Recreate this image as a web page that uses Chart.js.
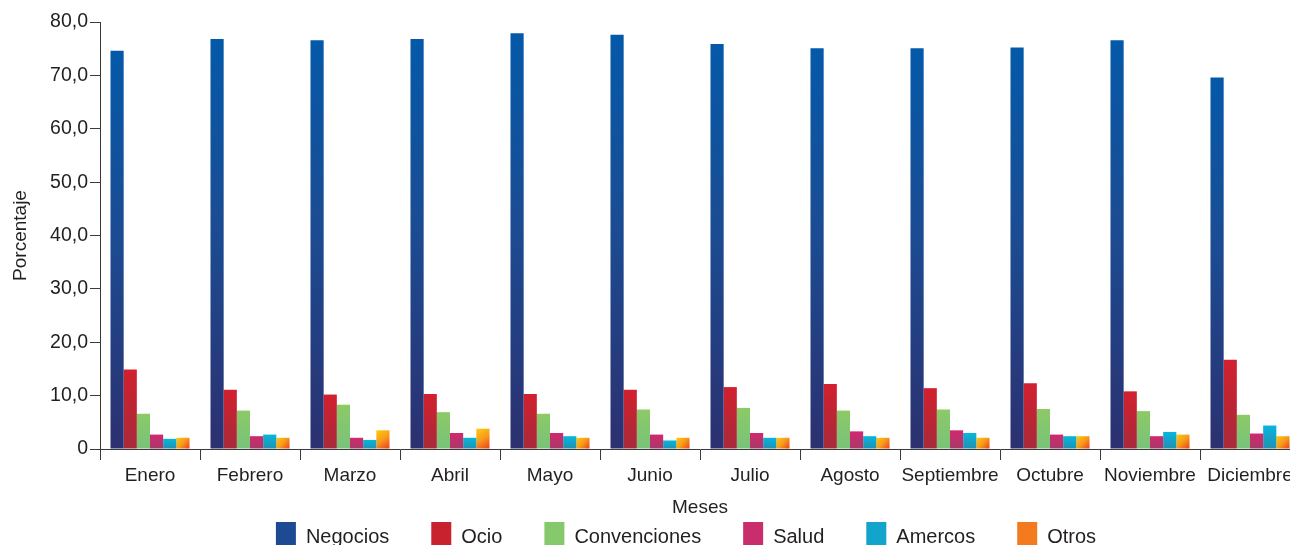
<!DOCTYPE html>
<html>
<head>
<meta charset="utf-8">
<script src="https://cdn.jsdelivr.net/npm/chart.js@4.4.1/dist/chart.umd.min.js"></script>
<style>
  html, body { margin: 0; padding: 0; background: #ffffff; overflow: hidden; }
  #wrap { position: absolute; left: 0; top: 0; width: 1300px; height: 560px; }
</style>
</head>
<body>
<div id="wrap"><canvas id="c" width="1300" height="560"></canvas></div>
<script>
const categories = ['Enero', 'Febrero', 'Marzo', 'Abril', 'Mayo', 'Junio', 'Julio', 'Agosto', 'Septiembre', 'Octubre', 'Noviembre', 'Diciembre'];
const seriesNames = ['Negocios', 'Ocio', 'Convenciones', 'Salud', 'Amercos', 'Otros'];
const negocios = [74.6, 76.8, 76.6, 76.8, 77.9, 77.6, 75.9, 75.1, 75.1, 75.2, 76.6, 69.6];
const ocio = [14.9, 11.1, 10.2, 10.3, 10.3, 11.1, 11.6, 12.2, 11.4, 12.3, 10.8, 16.7];
const convenciones = [6.6, 7.2, 8.3, 6.9, 6.6, 7.4, 7.7, 7.2, 7.4, 7.5, 7.1, 6.4];
const salud = [2.7, 2.4, 2.1, 3.0, 3.0, 2.7, 3.0, 3.3, 3.5, 2.7, 2.4, 2.9];
const amercos = [1.9, 2.7, 1.7, 2.1, 2.4, 1.6, 2.1, 2.4, 3.0, 2.4, 3.2, 4.4];
const otros = [2.1, 2.1, 3.5, 3.8, 2.1, 2.1, 2.1, 2.1, 2.1, 2.4, 2.7, 2.4];
const yTicks = [0, 10, 20, 30, 40, 50, 60, 70, 80];

const FONT = '"Liberation Sans", Arial, Helvetica, sans-serif';
const TEXT = '#231f20';
const CAT_PCT = 0.79;

const stopsList = [
  [[0, '#0459a9'], [0.45, '#1b4c93'], [1, '#2c3070']],
  [[0, '#d2202f'], [1, '#a82a3a']],
  [[0, '#8cca66'], [1, '#78c27a']],
  [[0, '#d2286f'], [1, '#a63a68']],
  [[0, '#06b6de'], [1, '#2290b0']],
  [[0, '#ffcb0c'], [0.5, '#f79a1a'], [1, '#ec3a22']]
];
const legendColors = ['#1d4a92', '#c9222f', '#86c86c', '#c92d6b', '#13a4cc', '#f47a1f'];

function barFill(dsIndex) {
  return function (ctx) {
    const stops = stopsList[dsIndex];
    const chart = ctx.chart;
    if (!chart.chartArea || ctx.type !== 'data' || !chart.scales.y) return stops[0][1];
    const ys = chart.scales.y, xs = chart.scales.x;
    const top = ys.getPixelForValue(ctx.raw);
    const base = ys.getPixelForValue(0);
    let g;
    if (dsIndex === 5) {
      const w = (xs.width / categories.length) * CAT_PCT / seriesNames.length;
      const xc = xs.getPixelForValue(ctx.dataIndex) + (dsIndex - 2.5) * w;
      g = chart.ctx.createLinearGradient(xc - w / 2, top, xc + w / 2, base);
    } else {
      g = chart.ctx.createLinearGradient(0, top, 0, base);
    }
    stops.forEach(s => g.addColorStop(s[0], s[1]));
    return g;
  };
}

const seriesData = [negocios, ocio, convenciones, salud, amercos, otros];
const datasets = seriesNames.map((name, i) => ({
  label: name,
  data: seriesData[i],
  backgroundColor: barFill(i),
  borderWidth: 0,
  categoryPercentage: CAT_PCT,
  barPercentage: 1.0
}));

// place the legend band lower, overlapping the axis title band as in the original
const legendPlacer = {
  id: 'legendPlacer',
  beforeDraw(chart) {
    const lg = chart.legend;
    if (!lg) return;
    lg.top = 480; lg.bottom = 560;
    lg.left = 86; lg.right = 1286;
  }
};

new Chart(document.getElementById('c'), {
  type: 'bar',
  data: { labels: categories, datasets: datasets },
  plugins: [legendPlacer],
  options: {
    responsive: false,
    animation: false,
    layout: { padding: { top: 22, left: 0, right: 0, bottom: 0 } },
    plugins: {
      tooltip: { enabled: false },
      legend: {
        display: true,
        position: 'bottom',
        fullSize: false,
        maxHeight: 45,
        labels: {
          boxWidth: 20,
          boxHeight: 30,
          padding: 42,
          color: TEXT,
          font: { family: FONT, size: 20 },
          generateLabels: function (chart) {
            return seriesNames.map((n, i) => ({
              text: n,
              fillStyle: legendColors[i],
              strokeStyle: legendColors[i],
              lineWidth: 0,
              hidden: false,
              datasetIndex: i,
              fontColor: TEXT
            }));
          }
        }
      }
    },
    scales: {
      x: {
        offset: true,
        grid: { display: true, offset: true, drawOnChartArea: false, drawTicks: true, tickLength: 11, color: '#3a3a3a', lineWidth: 1 },
        border: { display: true, color: '#3a3a3a', width: 1 },
        ticks: { color: TEXT, font: { family: FONT, size: 19 }, padding: 4, maxRotation: 0, autoSkip: false },
        title: { display: true, text: 'Meses', color: TEXT, font: { family: FONT, size: 19 }, padding: { top: 0, bottom: -4 } },
        afterFit: function (scale) { scale.height = 66; }
      },
      y: {
        min: 0,
        max: 80,
        afterBuildTicks: function (scale) { scale.ticks = yTicks.map(v => ({ value: v })); },
        grid: { display: true, drawOnChartArea: false, drawTicks: true, tickLength: 10, color: '#3a3a3a', lineWidth: 1 },
        border: { display: true, color: '#3a3a3a', width: 1 },
        ticks: {
          color: TEXT,
          font: { family: FONT, size: 19.5 },
          padding: 2,
          callback: function (v) { return v === 0 ? '0' : Number(v).toFixed(1).replace('.', ','); }
        },
        title: { display: true, text: 'Porcentaje', color: TEXT, font: { family: FONT, size: 19 }, padding: { top: 9, bottom: 0 } },
        afterFit: function (scale) { scale.width = 100; }
      }
    }
  }
});
</script>
</body>
</html>
